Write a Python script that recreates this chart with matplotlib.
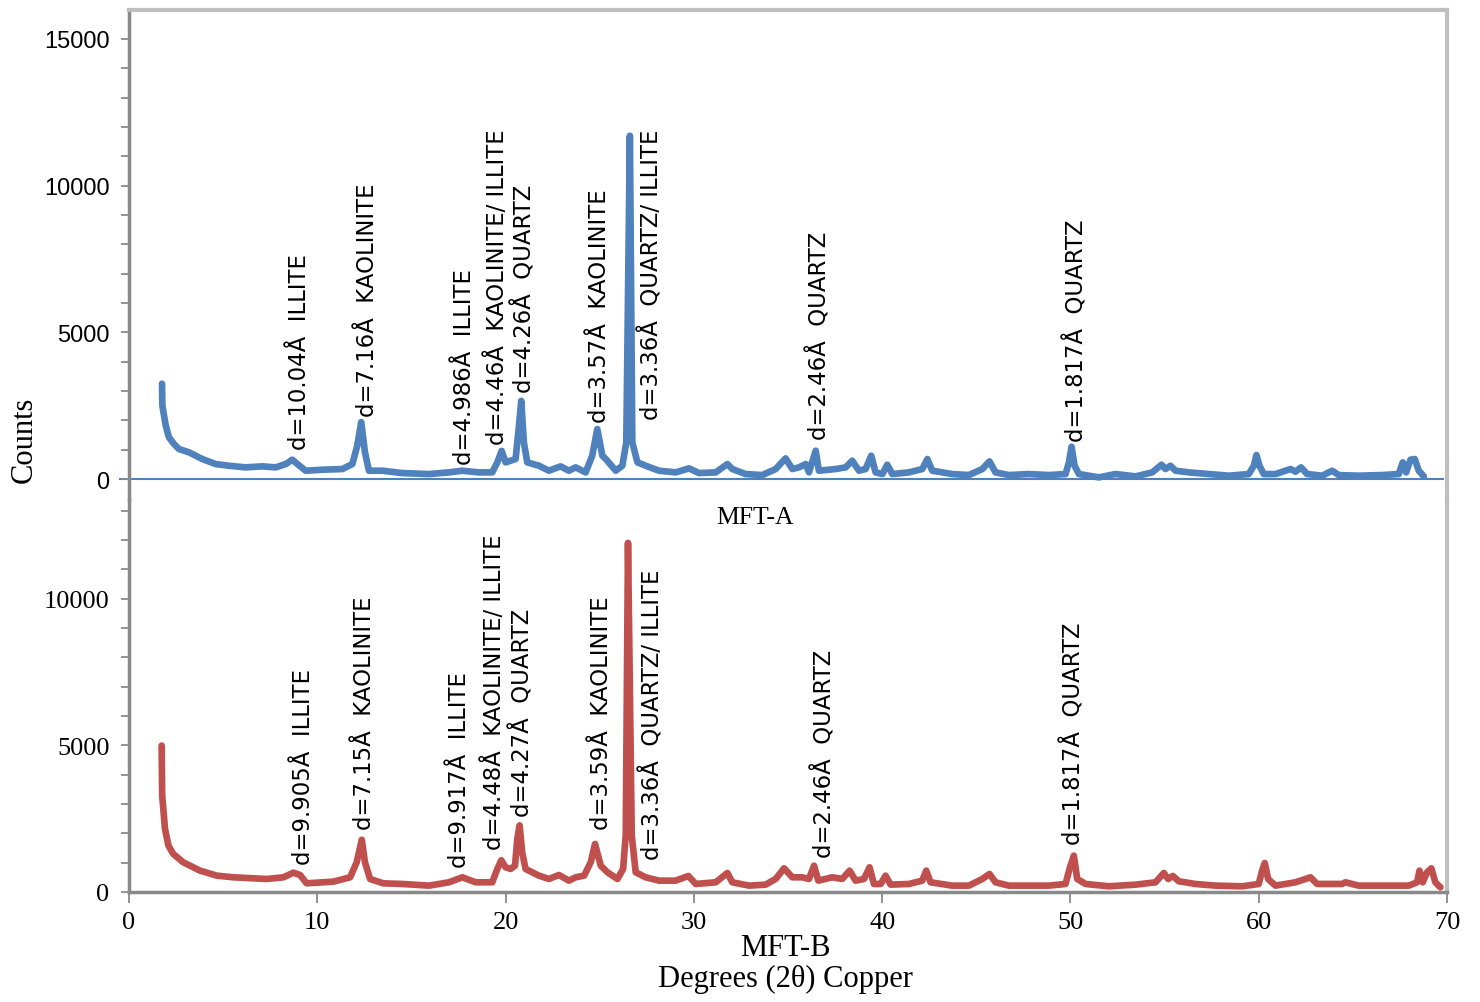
import matplotlib.pyplot as plt
from matplotlib.ticker import MultipleLocator

# MFT-A (top, blue) pattern: 2-theta / counts
mfta_2theta = [1.75, 1.77, 1.95, 2.12, 2.39, 2.65, 3.19, 3.89, 4.6, 5.3, 6.19, 7.08, 7.79,
               8.32, 8.67, 8.94, 9.38, 10.27, 11.33, 11.86, 12.12, 12.33, 12.53, 12.74,
               13.45, 14.5, 15.93, 16.99, 17.7, 18.58, 19.29, 19.56, 19.79, 20.0, 20.27,
               20.53, 20.71, 20.83, 20.97, 21.15, 21.77, 22.3, 22.92, 23.36, 23.72, 24.25,
               24.6, 24.87, 25.14, 25.32, 25.85, 26.2, 26.41, 26.6, 26.73, 27.0, 27.53,
               28.15, 29.03, 29.74, 30.27, 31.16, 31.78, 32.04, 32.75, 33.64, 34.34, 34.87,
               35.23, 35.58, 35.94, 36.11, 36.47, 36.64, 37.53, 38.06, 38.41, 38.77, 39.12,
               39.42, 39.65, 40.01, 40.27, 40.54, 41.42, 42.13, 42.4, 42.66, 43.72, 44.61,
               45.32, 45.7, 46.02, 46.73, 47.79, 48.85, 49.74, 49.92, 50.06, 50.22, 50.45,
               51.51, 52.39, 53.46, 54.34, 54.84, 55.05, 55.31, 55.58, 56.29, 57.35, 58.41,
               59.47, 59.74, 59.88, 60.04, 60.27, 60.89, 61.69, 61.95, 62.25, 62.57, 63.37,
               63.9, 64.25, 65.31, 66.55, 67.44, 67.65, 67.83, 68.06, 68.29, 68.5, 68.77]
mfta_counts = [3250, 2500, 1817, 1420, 1193, 1022, 909, 682, 511, 454, 398, 432, 398,
               511, 659, 511, 284, 318, 341, 511, 1136, 1940, 909, 284,
               284, 204, 170, 227, 284, 227, 227, 568, 960, 568, 625,
               682, 1817, 2665, 1250, 568, 454, 284, 432, 284, 398, 227,
               795, 1704, 795, 682, 284, 454, 1250, 11700, 1250, 568, 432,
               284, 227, 364, 204, 227, 511, 341, 170, 136, 341, 704,
               341, 398, 511, 227, 966, 284, 341, 398, 625, 284, 341,
               795, 227, 170, 488, 170, 227, 341, 682, 284, 170, 136,
               341, 602, 227, 136, 170, 136, 170, 568, 1100, 454, 170,
               57, 170, 91, 227, 488, 341, 454, 284, 227, 170, 114,
               170, 454, 818, 454, 170, 170, 341, 250, 398, 170, 114,
               284, 136, 114, 136, 170, 568, 227, 659, 682, 284, 91]

# MFT-B (bottom, red) pattern
mftb_2theta = [1.73, 1.76, 1.91, 2.09, 2.35, 2.88, 3.77, 4.66, 5.54, 7.31, 8.2, 8.73, 9.08,
               9.43, 10.85, 11.74, 12.09, 12.36, 12.53, 12.8, 13.5, 14.51, 15.93, 16.99,
               17.7, 18.41, 19.29, 19.56, 19.77, 20.0, 20.27, 20.5, 20.62, 20.74, 20.88,
               21.06, 21.77, 22.3, 22.83, 23.36, 23.72, 24.17, 24.52, 24.75, 25.05, 25.41,
               25.94, 26.24, 26.38, 26.5, 26.7, 26.91, 27.44, 28.15, 29.03, 29.71, 30.1,
               31.16, 31.78, 32.04, 32.93, 33.81, 34.34, 34.79, 35.23, 35.76, 36.11, 36.38,
               36.61, 37.35, 37.88, 38.27, 38.59, 39.03, 39.33, 39.56, 39.92, 40.18, 40.45,
               41.42, 42.13, 42.34, 42.57, 43.72, 44.61, 45.32, 45.7, 46.02, 46.73, 47.79,
               48.85, 49.74, 49.95, 50.18, 50.36, 50.8, 52.04, 53.46, 54.52, 54.96, 55.19,
               55.44, 55.76, 56.64, 57.7, 59.12, 60.0, 60.18, 60.32, 60.5, 60.89, 61.95,
               62.75, 63.1, 64.43, 64.61, 65.31, 66.55, 67.97, 68.41, 68.54, 68.71, 68.94,
               69.17, 69.38, 69.65]
mftb_counts = [4990, 3283, 2147, 1579, 1295, 1011, 727, 557, 500, 443, 500, 659, 579,
               295, 352, 500, 1011, 1780, 1011, 443, 295, 273, 216, 330,
               500, 330, 330, 784, 1080, 841, 784, 897, 1806, 2270, 1352,
               784, 557, 443, 579, 386, 500, 557, 1011, 1636, 897, 670,
               443, 784, 1920, 11900, 1920, 670, 500, 386, 386, 545, 273,
               330, 648, 330, 216, 250, 443, 806, 500, 500, 443, 897,
               386, 500, 443, 727, 386, 443, 841, 273, 273, 557, 250,
               273, 386, 727, 330, 216, 216, 443, 614, 330, 216, 216,
               216, 273, 784, 1240, 443, 273, 193, 250, 330, 648, 443,
               545, 364, 273, 216, 193, 273, 727, 988, 443, 216, 330,
               500, 273, 273, 330, 216, 216, 216, 330, 727, 330, 670,
               806, 330, 159]

# peak annotations (x, y, text) for each pattern
mfta_label_x = [9.03, 12.64, 17.84, 19.54, 20.98, 25.01, 27.72, 36.64, 50.34]
mfta_label_y = [1020, 2150, 510, 1190, 2960, 1940, 2040, 1360, 1300]
mfta_labels = ["d=10.04Å  ILLITE", "d=7.16Å  KAOLINITE", "d=4.986Å  ILLITE",
               "d=4.46Å  KAOLINITE/ ILLITE", "d=4.26Å  QUARTZ", "d=3.57Å  KAOLINITE",
               "d=3.36Å  QUARTZ/ ILLITE", "d=2.46Å  QUARTZ", "d=1.817Å  QUARTZ"]
mftb_label_x = [9.29, 12.48, 17.53, 19.38, 20.87, 25.07, 27.77, 36.91, 50.13]
mftb_label_y = [950, 2150, 850, 1470, 2590, 2150, 1120, 1190, 1640]
mftb_labels = ["d=9.905Å  ILLITE", "d=7.15Å  KAOLINITE", "d=9.917Å  ILLITE",
               "d=4.48Å  KAOLINITE/ ILLITE", "d=4.27Å  QUARTZ", "d=3.59Å  KAOLINITE",
               "d=3.36Å  QUARTZ/ ILLITE", "d=2.46Å  QUARTZ", "d=1.817Å  QUARTZ"]

BLUE = "#4F81BD"
RED = "#C0504D"
AXIS_GRAY = "#898989"
FRAME_GRAY = "#BFBFBF"
SERIF = "Liberation Serif"
SANS = "Liberation Sans"
ANNOT_SIZE = 16.4

fig = plt.figure(figsize=(14.8, 10.03), dpi=100)
left, width = 0.0872, 0.8905
ax_top = fig.add_axes([left, 0.5015, width, 0.989 - 0.5015])
ax_bot = fig.add_axes([left, 0.1097, width, 0.5015 - 0.1097])

for ax in (ax_top, ax_bot):
    ax.set_xlim(0, 70)
    ax.patch.set_alpha(0)
    ax.spines["left"].set_color(AXIS_GRAY)
    ax.spines["left"].set_linewidth(2.5)
    ax.spines["right"].set_color(FRAME_GRAY)
    ax.spines["right"].set_linewidth(3)
    ax.yaxis.set_major_locator(MultipleLocator(5000))
    ax.yaxis.set_minor_locator(MultipleLocator(1000))
    ax.tick_params(axis="y", which="both", direction="out", length=6, width=1.3,
                   color=AXIS_GRAY, pad=8)

# top panel
ax_top.set_ylim(-680, 15985)
ax_top.spines["top"].set_color(FRAME_GRAY)
ax_top.spines["top"].set_linewidth(3)
ax_top.spines["bottom"].set_visible(False)
ax_top.tick_params(axis="x", which="both", bottom=False, labelbottom=False)
for lab in ax_top.get_yticklabels():
    lab.set_fontfamily(SANS)
    lab.set_fontsize(17)
ax_top.plot([-0.5, 69.8], [0, 0], color=BLUE, lw=1.5, clip_on=False, zorder=1)
ax_top.plot(mfta_2theta, mfta_counts, color=BLUE, lw=4.8,
            solid_capstyle="round", solid_joinstyle="round", zorder=2)
for x, y, t in zip(mfta_label_x, mfta_label_y, mfta_labels):
    ax_top.text(x, y, t, rotation=90, ha="center", va="bottom",
                fontsize=ANNOT_SIZE, family="DejaVu Sans")

# bottom panel
ax_bot.set_ylim(0, 13395)
ax_bot.spines["top"].set_visible(False)
ax_bot.spines["bottom"].set_color(AXIS_GRAY)
ax_bot.spines["bottom"].set_linewidth(2.5)
ax_bot.xaxis.set_major_locator(MultipleLocator(10))
ax_bot.tick_params(axis="x", direction="out", length=8, width=1.3, color=AXIS_GRAY,
                   pad=6)
for lab in ax_bot.get_xticklabels() + ax_bot.get_yticklabels():
    lab.set_fontfamily(SERIF)
    lab.set_fontsize(19)
ax_bot.plot(mftb_2theta, mftb_counts, color=RED, lw=4.8,
            solid_capstyle="round", solid_joinstyle="round", zorder=2)
for x, y, t in zip(mftb_label_x, mftb_label_y, mftb_labels):
    ax_bot.text(x, y, t, rotation=90, ha="center", va="bottom",
                fontsize=ANNOT_SIZE, family="DejaVu Sans")

# titles and axis captions
fig.text(24 / 1480, 1 - 440 / 1003, "Counts", rotation=90, ha="center", va="center",
         family=SERIF, fontsize=22)
fig.text(755 / 1480, 1 - 518 / 1003, "MFT-A", ha="center", va="center",
         family=SERIF, fontsize=18.5)
fig.text(785 / 1480, 1 - 949 / 1003, "MFT-B", ha="center", va="center",
         family=SERIF, fontsize=22)
fig.text(785 / 1480, 1 - 979 / 1003, "Degrees (2θ) Copper", ha="center", va="center",
         family=SERIF, fontsize=22)

fig.savefig("out.png", dpi=100)
